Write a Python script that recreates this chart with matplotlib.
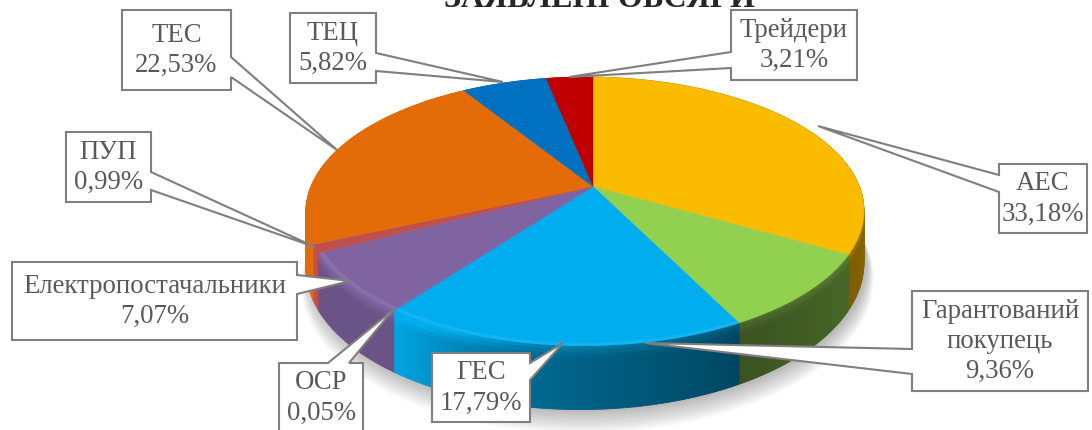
import numpy as np
import matplotlib
matplotlib.use("Agg")
import matplotlib.pyplot as plt
from matplotlib.collections import PolyCollection
from matplotlib.patches import Polygon

categories = ["АЕС", "Гарантований\nпокупець", "ГЕС", "ОСР", "Електропостачальники",
              "ПУП", "ТЕС", "ТЕЦ", "Трейдери"]
values = [33.18, 9.36, 17.79, 0.05, 7.07, 0.99, 22.53, 5.82, 3.21]
value_labels = ["33,18%", "9,36%", "17,79%", "0,05%", "7,07%", "0,99%", "22,53%", "5,82%", "3,21%"]
title_text = "ЗАЯВЛЕНІ ОБСЯГИ"

colors = ["#FBBC00", "#92D050", "#00AEEF", "#8064A2", "#8064A2",
          "#C0504D", "#E36C09", "#0070C0", "#C00000"]

# box (x0, y0, x1, y1), attached side, two base coordinates along that side, tip
callouts = {
    "АЕС": ((999, 164, 1087, 233), "left", 175, 192, (818, 126)),
    "Гарантований\nпокупець": ((912, 291, 1088, 391), "left", 349, 374, (645, 343)),
    "ГЕС": ((432, 353, 530, 422), "right", 380, 363, (563, 343)),
    "ОСР": ((279, 363, 363, 445), "top", 328, 349, (393, 310)),
    "Електропостачальники": ((12, 262, 297, 340), "right", 275, 294, (350, 281)),
    "ПУП": ((66, 132, 151, 202), "right", 172, 190, (315, 247)),
    "ТЕС": ((122, 10, 231, 90), "right", 57, 77, (337, 150)),
    "ТЕЦ": ((290, 13, 376, 83), "right", 53, 71, (503, 82)),
    "Трейдери": ((731, 10, 857, 80), "left", 52, 68, (569, 77)),
}

CX, CY, R, H, K, M, DEPTH = 593.0, 186.5, 274.0, 129.7, 0.185, 0.0286, 52.0


def project(theta, radius=1.0, z=0.0):
    t = np.radians(theta)
    X, Y = radius * np.sin(t), radius * np.cos(t)
    w = 1 + K * Y + M * X
    return CX + R * X / w, CY - H * Y / w + z / w


def shade(c, f):
    rgb = np.array(matplotlib.colors.to_rgb(c))
    return tuple(np.clip(rgb * f if f <= 1 else rgb + (1 - rgb) * (f - 1), 0, 1))


fig = plt.figure(figsize=(10.92, 4.30), dpi=100)
ax = fig.add_axes([0, 0, 1, 1])
ax.set_xlim(0, 1092)
ax.set_ylim(430, 0)
ax.axis("off")

# soft shadow under the pie
full = np.linspace(0, 360, 241)
for i in range(9):
    sx, sy = project(full, 1.0 + 0.003 * i, DEPTH + 2 + 1.6 * i)
    ax.add_patch(Polygon(np.c_[sx + 3, sy], closed=True, fc="#000000", ec="none",
                         alpha=0.03, zorder=1))

cum = np.concatenate([[0], np.cumsum(values)]) * 3.6
ang_pts = [100, 153, 190, 217, 217.2, 243, 243.5, 270, 300]
ang_val = [0.55, 0.40, 0.60, 0.95, 0.83, 0.83, 1.0, 0.98, 0.9]
v_steps = [0.0, 0.06, 0.13, 0.2, 1.0]
v_gain = [1.25, 1.15, 1.05, 1.0]

# side wall, back to front
quads, qcols = [], []
segs = []
for i, c in enumerate(colors):
    n = max(2, int((cum[i + 1] - cum[i]) / 1.0) + 1)
    th = np.linspace(cum[i], cum[i + 1], n + 1)
    for a, b in zip(th[:-1], th[1:]):
        segs.append((np.cos(np.radians((a + b) / 2)), a, b, c))
segs.sort(key=lambda s: -s[0])
for _, a, b, c in segs:
    f = np.interp((a + b) / 2, ang_pts, ang_val)
    for j in range(len(v_gain)):
        z0, z1 = DEPTH * v_steps[j], DEPTH * v_steps[j + 1]
        xa0, ya0 = project(a, 1, z0)
        xb0, yb0 = project(b, 1, z0)
        xb1, yb1 = project(b, 1, z1)
        xa1, ya1 = project(a, 1, z1)
        quads.append([(xa0, ya0), (xb0, yb0), (xb1, yb1), (xa1, ya1)])
        qcols.append(shade(c, min(1.0, f * v_gain[j])))
ax.add_collection(PolyCollection(quads, facecolors=qcols, edgecolors=qcols,
                                 linewidths=0.6, zorder=2))

# top face
for i, c in enumerate(colors):
    th = np.linspace(cum[i], cum[i + 1], max(3, int((cum[i + 1] - cum[i]) * 2)))
    x, y = project(th)
    ax.fill(np.r_[CX, x], np.r_[CY, y], fc=c, ec=c, lw=0.3, zorder=3)
    # light bevel along the front rim
    if cum[i + 1] > 160 and cum[i] < 240:
        xi, yi = project(th, 0.985)
        ax.fill(np.r_[x, xi[::-1]], np.r_[y, yi[::-1]], fc=shade(c, 1.08), ec="none", zorder=4)

# callout shapes with text
for name, val in zip(categories, value_labels):
    (x0, y0, x1, y1), side, a, b, tip = callouts[name]
    if side == "left":
        pts = [(x0, y0), (x1, y0), (x1, y1), (x0, y1), (x0, b), tip, (x0, a)]
    elif side == "right":
        pts = [(x0, y0), (x1, y0), (x1, min(a, b)), tip, (x1, max(a, b)), (x1, y1), (x0, y1)]
    else:
        pts = [(x0, y0), (a, y0), tip, (b, y0), (x1, y0), (x1, y1), (x0, y1)]
    ax.add_patch(Polygon(pts, closed=True, fc="white", ec="#7F7F7F", lw=1.5, zorder=6))
    ax.text((x0 + x1) / 2, (y0 + min(y1, 432)) / 2 + 0.5, f"{name}\n{val}",
            ha="center", va="center", family="Liberation Serif", fontsize=19.3,
            color="#595959", linespacing=1.28, zorder=7)

ax.text(599, 7, title_text, ha="center", va="baseline", family="Liberation Serif",
        fontsize=23, fontweight="bold", color="#262626", zorder=7)

fig.savefig("out.png", dpi=100)
